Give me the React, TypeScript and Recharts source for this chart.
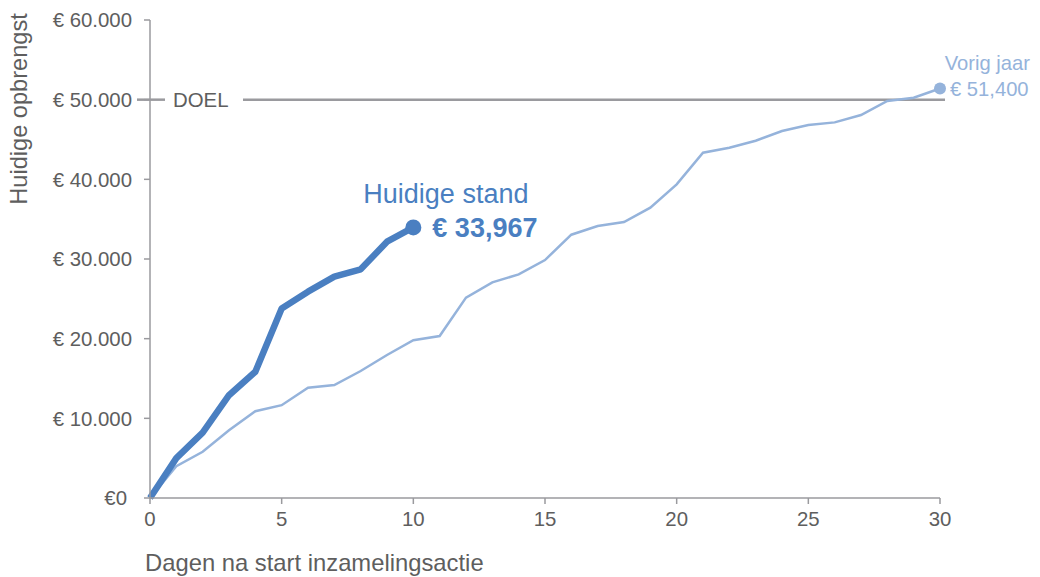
import { LineChart, Line, XAxis, YAxis, ReferenceLine } from "recharts";

const days = Array.from({ length: 31 }, (_, i) => i);
const currentYear = [0, 5000, 8200, 12900, 15850, 23800, 25900, 27780, 28700, 32170, 33967];
const previousYear = [
  0, 4000, 5800, 8500, 10900, 11650, 13850, 14180, 15940, 17950, 19800,
  20330, 25150, 27070, 28070, 29870, 33050, 34140, 34640, 36440, 39370,
  43340, 43970, 44850, 46070, 46820, 47150, 48070, 49830, 50250, 51400,
];
const yTicks = [0, 10000, 20000, 30000, 40000, 50000, 60000];
const xTicks = [0, 5, 10, 15, 20, 25, 30];
const goal = 50000;

const data = days.map((d, i) => ({
  day: d,
  current: i < currentYear.length ? currentYear[i] : null,
  previous: previousYear[i],
}));

const FONT = "'Liberation Sans', Arial, Helvetica, sans-serif";
const GREY_TEXT = "#5e5e5e";
const AXIS = "#9a9a9e";
const DARK_BLUE = "#4a7fc1";
const LIGHT_BLUE = "#95b3db";

const fmtEuro = (v: number) => (v === 0 ? "€0" : "€ " + v.toLocaleString("de-DE"));

function YTick(props: any) {
  const { x, y, payload } = props;
  const shift = payload.value === 0 ? 5 : 0;
  return (
    <text x={x - shift} y={y} dy="0.355em" textAnchor="end" fill={GREY_TEXT} fontSize={20.4} fontFamily={FONT}>
      {fmtEuro(payload.value)}
    </text>
  );
}

function GoalShape(props: any) {
  const { x1, x2, y1 } = props;
  return (
    <g>
      <line x1={x1 - 13} x2={x1 + 15} y1={y1} y2={y1} stroke={AXIS} strokeWidth={2.5} />
      <text x={x1 + 23} y={y1} dy="0.355em" fill={GREY_TEXT} fontSize={20.4} fontFamily={FONT}>
        DOEL
      </text>
      <line x1={x1 + 93} x2={x2 + 5} y1={y1} y2={y1} stroke={AXIS} strokeWidth={2.5} />
    </g>
  );
}

function CurrentDot(props: any) {
  const { cx, cy, index } = props;
  if (index !== currentYear.length - 1 || cx == null) return <g key={"c" + index} />;
  return (
    <g key={"c" + index}>
      <circle cx={cx} cy={cy} r={8} fill={DARK_BLUE} />
      <text x={cx - 50} y={cy - 24} fill={DARK_BLUE} fontSize={27} fontFamily={FONT}>
        Huidige stand
      </text>
      <text x={cx + 19} y={cy + 10} fill={DARK_BLUE} fontSize={27} fontWeight="bold" fontFamily={FONT}>
        € {currentYear[currentYear.length - 1].toLocaleString("en-US")}
      </text>
    </g>
  );
}

function PreviousDot(props: any) {
  const { cx, cy, index } = props;
  if (index !== previousYear.length - 1 || cx == null) return <g key={"p" + index} />;
  return (
    <g key={"p" + index}>
      <circle cx={cx} cy={cy} r={6} fill={LIGHT_BLUE} />
      <text x={cx + 90} y={cy - 19} textAnchor="end" fill={LIGHT_BLUE} fontSize={20.2} fontFamily={FONT}>
        Vorig jaar
      </text>
      <text x={cx + 10} y={cy + 7.5} fill={LIGHT_BLUE} fontSize={20.2} fontFamily={FONT}>
        € {previousYear[previousYear.length - 1].toLocaleString("en-US")}
      </text>
    </g>
  );
}

export default function App() {
  return (
    <div style={{ position: "absolute", left: 0, top: 0, background: "#fff" }}>
      <LineChart width={1040} height={577} data={data} margin={{ top: 20, right: 100, left: 0, bottom: 0 }}>
        <XAxis
          dataKey="day"
          type="number"
          domain={[0, 30]}
          ticks={xTicks}
          height={79}
          stroke={AXIS}
          strokeWidth={1.5}
          tickSize={6}
          tickMargin={8}
          tick={{ fill: GREY_TEXT, fontSize: 20.4, fontFamily: FONT }}
          label={{
            content: () => (
              <text x={145} y={571} fill={GREY_TEXT} fontSize={23.8} fontFamily={FONT}>
                Dagen na start inzamelingsactie
              </text>
            ),
          }}
        />
        <YAxis
          type="number"
          domain={[0, 60000]}
          ticks={yTicks}
          width={150}
          stroke={AXIS}
          strokeWidth={1.5}
          tickSize={6}
          tickMargin={12}
          tick={<YTick />}
          label={{
            content: () => (
              <text
                x={19}
                y={109}
                transform="rotate(-90 19 109)"
                textAnchor="middle"
                dominantBaseline="central"
                fill={GREY_TEXT}
                fontSize={23.6}
                fontFamily={FONT}
              >
                Huidige opbrengst
              </text>
            ),
          }}
        />
        <ReferenceLine y={goal} shape={<GoalShape />} />
        <Line
          dataKey="previous"
          stroke={LIGHT_BLUE}
          strokeWidth={2.5}
          dot={PreviousDot}
          activeDot={false}
          isAnimationActive={false}
        />
        <Line
          dataKey="current"
          stroke={DARK_BLUE}
          strokeWidth={6.5}
          strokeLinejoin="round"
          dot={CurrentDot}
          activeDot={false}
          isAnimationActive={false}
        />
      </LineChart>
    </div>
  );
}
